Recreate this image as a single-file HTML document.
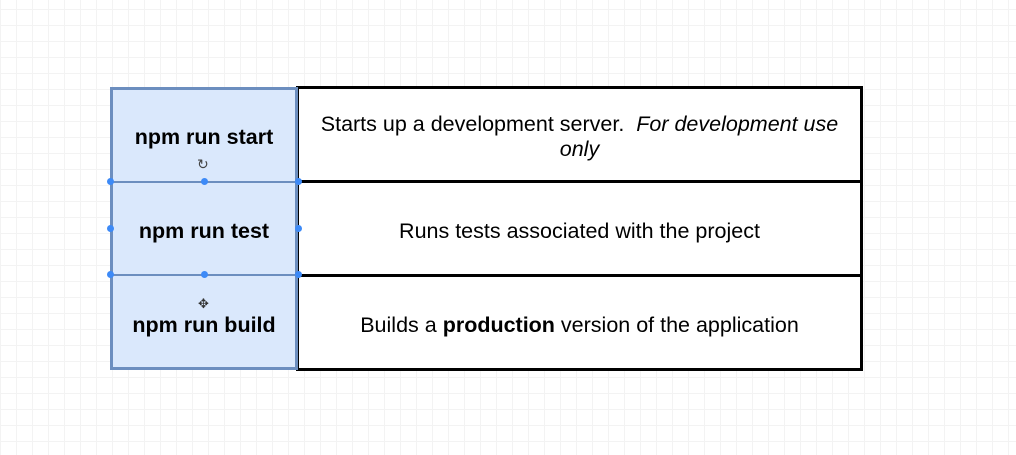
<!DOCTYPE html>
<html><head><style>
body{margin:0;width:1016px;height:455px;overflow:hidden;background:#fff;
background-image:linear-gradient(#f3f3f3 1px,transparent 1px),linear-gradient(90deg,#f3f3f3 1px,transparent 1px);
background-size:16px 16px;background-position:0 9px;font-family:"Liberation Sans",sans-serif;}
.c{position:absolute;display:flex;align-items:center;justify-content:center;text-align:center;box-sizing:border-box;}
.l{font-weight:bold;font-size:21.5px;color:#000;}
.r{background:#fff;border:3px solid #000;font-size:21.5px;color:#000;padding:5px 16px 0;line-height:25px}
.d{position:absolute;width:7px;height:7px;border-radius:50%;background:#3d8af7;}
</style></head><body>
<div class="c r" style="left:296px;top:86px;width:567px;height:97px"><span>Starts up a development server.&nbsp; <i>For development use only</i></span></div>
<div class="c r" style="left:296px;top:180px;width:567px;height:97px">Runs tests associated with the project</div>
<div class="c r" style="left:296px;top:274px;width:567px;height:97px"><span>Builds a <b>production</b> version of the application</span></div>
<div style="position:absolute;left:110px;top:87px;width:188px;height:283px;border:3px solid #6c8ebf;background:#dae8fc;box-sizing:border-box"></div>
<div style="position:absolute;left:110px;top:181px;width:188px;height:2px;background:#6c8ebf"></div>
<div style="position:absolute;left:110px;top:274px;width:188px;height:2px;background:#6c8ebf"></div>
<div class="c l" style="left:110px;top:112px;width:188px;height:50px">npm run start</div>
<div class="c l" style="left:110px;top:206px;width:188px;height:50px">npm run test</div>
<div class="c l" style="left:110px;top:300px;width:188px;height:50px">npm run build</div>
<div style="position:absolute;left:197px;top:156px;font-size:14px;color:#444">↻</div>
<div style="position:absolute;left:198px;top:296px;font-size:13px;color:#333">✥</div>
<div class="d" style="left:107px;top:178px"></div><div class="d" style="left:201px;top:178px"></div><div class="d" style="left:295px;top:178px"></div>
<div class="d" style="left:107px;top:225px"></div><div class="d" style="left:295px;top:225px"></div>
<div class="d" style="left:107px;top:271px"></div><div class="d" style="left:201px;top:271px"></div><div class="d" style="left:295px;top:271px"></div>
</body></html>
